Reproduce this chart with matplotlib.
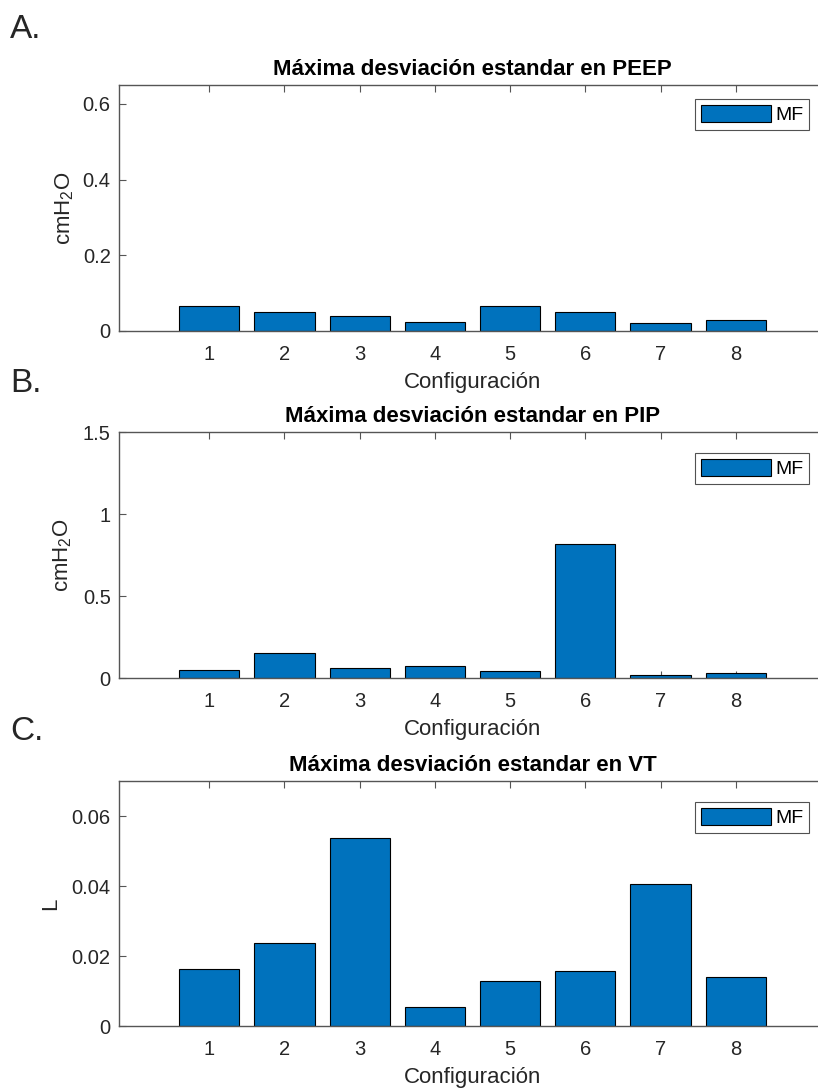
import numpy as np
import matplotlib
matplotlib.use("Agg")
import matplotlib.pyplot as plt

plt.rcParams['font.family'] = ['Liberation Sans', 'DejaVu Sans']
plt.rcParams['mathtext.fontset'] = 'custom'
plt.rcParams['mathtext.rm'] = 'Liberation Sans'
plt.rcParams['mathtext.it'] = 'Liberation Sans'

configs = [1, 2, 3, 4, 5, 6, 7, 8]
peep = [0.066, 0.051, 0.040, 0.024, 0.066, 0.051, 0.021, 0.029]
pip = [0.051, 0.155, 0.063, 0.071, 0.045, 0.816, 0.020, 0.031]
vt = [0.0163, 0.0236, 0.0538, 0.0055, 0.0129, 0.0158, 0.0407, 0.0139]

titles = ["Máxima desviación estandar en PEEP",
          "Máxima desviación estandar en PIP",
          "Máxima desviación estandar en VT"]
ylabels = ["cmH$_2$O", "cmH$_2$O", "L"]
panel_tags = ["A.", "B.", "C."]
ylims = [0.65, 1.5, 0.07]
yticks = [[0, 0.2, 0.4, 0.6], [0, 0.5, 1, 1.5], [0, 0.02, 0.04, 0.06]]
yticklabels = [["0", "0.2", "0.4", "0.6"], ["0", "0.5", "1", "1.5"],
               ["0", "0.02", "0.04", "0.06"]]

bar_color = '#0072BD'
axis_color = '#555555'
text_color = '#262626'

W, H = 818, 1090
fig = plt.figure(figsize=(W / 100, H / 100), dpi=100)

# axes boxes in pixels: (left, top, right, bottom)
boxes = [(119, 85, 826, 331), (119, 432, 826, 678), (119, 781, 826, 1026)]
tag_y = [29, 384, 732]
leg_top = [99, 453, 802]
ylab_right = [76, 74, 61]

for i, data in enumerate([peep, pip, vt]):
    l, t, r, b = boxes[i]
    ax = fig.add_axes([l / W, 1 - b / H, (r - l) / W, (b - t) / H])
    ax.bar(configs, data, width=0.8, color=bar_color, edgecolor='black',
           linewidth=0.8, label='MF', zorder=2)
    ax.set_xlim(-0.2, 9.2)
    ax.set_ylim(0, ylims[i])
    ax.set_xticks(configs)
    ax.set_yticks(yticks[i])
    ax.set_yticklabels(yticklabels[i])
    ax.tick_params(direction='in', length=5, width=0.8, colors=axis_color,
                   labelcolor=text_color, labelsize=14.5, top=True, right=True)
    ax.tick_params(axis='x', pad=10)
    ax.tick_params(axis='y', pad=6)
    for s in ax.spines.values():
        s.set_color(axis_color)
        s.set_linewidth(1.0)
    ax.set_title(titles[i], fontsize=16, fontweight='bold', color='black', pad=7)
    ax.set_xlabel("Configuración", fontsize=16, color=text_color)
    ax.xaxis.set_label_coords(0.5, -41 / (b - t))
    ax.set_ylabel(ylabels[i], fontsize=16, color=text_color)
    ax.yaxis.set_label_coords((ylab_right[i] - l) / (r - l), 0.5)

    leg = ax.legend(loc='upper right',
                    bbox_to_anchor=((809 - l) / (r - l), 1 - (leg_top[i] - t) / (b - t)),
                    borderaxespad=0, fontsize=14, frameon=True, fancybox=False,
                    handlelength=3.6, handleheight=1.0, handletextpad=0.2,
                    borderpad=0.3)
    leg.get_frame().set_edgecolor(text_color)
    leg.get_frame().set_linewidth(0.8)

    fig.text(10 / W, 1 - tag_y[i] / H, panel_tags[i], fontsize=24,
             va='center', ha='left', color=text_color)

fig.savefig("out.png", dpi=100)
